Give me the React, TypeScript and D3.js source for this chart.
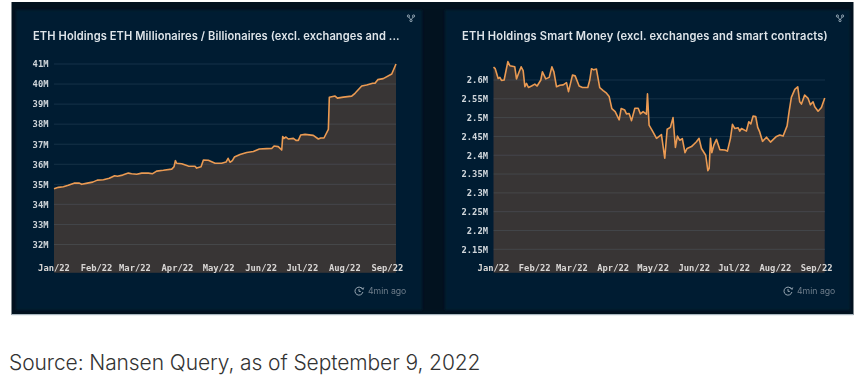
import React from "react";
import * as d3 from "d3";

const monthLabels = ["Jan/22","Feb/22","Mar/22","Apr/22","May/22","Jun/22","Jul/22","Aug/22","Sep/22"];
const monthDays = [0,31,59,90,120,151,181,212,243];
const endDay = 249.3;

const whaleTicks = [41,40,39,38,37,36,35,34,33,32];
const whaleDays = [0,3.2,6.8,10.4,14.6,18.5,20.2,24.3,28.2,31.6,36,40.3,44.2,46.2,50,54.2,56.6,60.3,63.9,68.8,71.9,74.8,79.7,85.8,87.5,88.5,89.4,93.1,97.9,102.8,104,107.2,108.9,112.5,117.4,122.2,125.4,126.9,128.3,130,131.5,135.6,140.5,145.3,149.7,155,158.7,160.4,163.5,166,166.7,167.7,169.1,170.8,174.5,176.4,178.1,179.8,183,189,192.7,194.4,196.8,200,200.7,204.9,206.6,210.9,217,219.4,224.3,227.9,232.3,234,236,240,246.2,249.3];
const whaleValues = [34.78,34.85,34.88,34.95,35.06,35.06,35,35.06,35.11,35.21,35.23,35.3,35.43,35.4,35.46,35.56,35.53,35.5,35.56,35.56,35.53,35.66,35.7,35.76,35.88,36.18,36.05,36.03,35.91,35.9,35.81,35.88,36.21,36.2,36.05,36.05,36.11,36.3,36.1,36.18,36.36,36.49,36.59,36.64,36.76,36.78,36.79,36.91,36.88,36.71,37.38,37.29,37.36,37.26,37.29,37.19,37.19,37.46,37.49,37.44,37.26,37.31,37.31,37.74,39.34,39.4,39.3,39.35,39.4,39.54,39.9,39.95,40.04,40.04,40.22,40.27,40.5,41];

const smartTicks = [2.6,2.55,2.5,2.45,2.4,2.35,2.3,2.25,2.2,2.15];
const smartDays = [0,1.3,3.5,4.8,6,8,10.8,12.3,16,17.3,19.3,20.8,22.3,23.6,24.8,26.3,28.6,31.1,32.8,35.6,36.8,39.3,41.9,43.9,45.4,47.4,49.9,52.4,54.9,56.4,59.4,61.4,64.4,66.9,70.9,72.4,73.7,75.4,77.4,79.9,82.5,85,87,89,91.5,94.5,96,98.7,100,102,103.8,106.3,108.8,110.5,112.5,115,115.8,117,119.5,122.6,126.3,128.8,130.6,133,135,136.8,138.3,140,142,144,145.6,148.9,152.6,154.6,156.4,159.6,161.2,162.2,163.2,164.2,165.7,167.7,170.2,173.9,175.9,178.2,179.7,181.5,184,185.2,186.5,190.2,192,193.5,195.2,197.2,198.7,200.2,202.3,205.3,208.3,212.8,215.3,217.8,220.8,222.3,224,226.6,228.8,230.3,231.6,234,236.6,238.3,240.3,241.6,244.1,246.6,249.1];
const smartValues = [2.634,2.63,2.604,2.607,2.599,2.6,2.649,2.638,2.635,2.603,2.622,2.635,2.625,2.582,2.591,2.58,2.584,2.589,2.584,2.6,2.622,2.603,2.607,2.635,2.622,2.582,2.586,2.587,2.593,2.569,2.613,2.611,2.584,2.58,2.58,2.6,2.63,2.627,2.629,2.58,2.572,2.565,2.556,2.524,2.516,2.494,2.524,2.52,2.51,2.511,2.492,2.525,2.525,2.51,2.516,2.509,2.563,2.48,2.465,2.445,2.455,2.392,2.469,2.474,2.5,2.421,2.451,2.44,2.444,2.407,2.418,2.423,2.436,2.445,2.418,2.4,2.359,2.365,2.445,2.407,2.427,2.442,2.415,2.414,2.411,2.445,2.482,2.471,2.473,2.464,2.471,2.464,2.489,2.483,2.504,2.503,2.474,2.462,2.437,2.448,2.435,2.45,2.454,2.451,2.478,2.516,2.554,2.575,2.582,2.542,2.536,2.56,2.551,2.534,2.542,2.529,2.517,2.527,2.552];

const BOTTOM = 272.7;
const MONO = "'DejaVu Sans Mono','Liberation Mono',monospace";
const SANS = "Inter,'Noto Sans',sans-serif";

type PanelProps = {
  title: string; titleX: number; titleSpacing: number; days: number[]; values: number[]; ticks: number[];
  fmt: (v: number) => string;
  x0: number; x1: number; yA: [number, number]; yB: [number, number];
  iconX: number; clockX: number;
};

function Panel({ title, titleX, titleSpacing, days, values, ticks, fmt, x0, x1, yA, yB, iconX, clockX }: PanelProps) {
  const x = d3.scaleLinear().domain([0, endDay]).range([x0, x1]);
  const y = d3.scaleLinear().domain([yA[0], yB[0]]).range([yA[1], yB[1]]);
  const pts = days.map((d, i) => [d, values[i]] as [number, number]);
  const line = d3.line<[number, number]>().x(d => x(d[0])).y(d => y(d[1]));
  const area = d3.area<[number, number]>().x(d => x(d[0])).y0(BOTTOM).y1(d => y(d[1]));
  return (
    <g filter="url(#soft)">
      <text x={titleX} y={39.5} fontFamily={SANS} fontWeight={600} fontSize={11.1} fill="#dfe5ea" style={{ letterSpacing: titleSpacing }}>{title}</text>
      <path d={area(pts) ?? ""} fill="#383536" />
      {ticks.map(t => (
        <g key={t}>
          <line x1={x0} x2={x1} y1={y(t)} y2={y(t)} stroke="#8aa6bd" strokeOpacity={0.15} />
          <text x={x0 - 5.5} y={y(t) + 3.3} textAnchor="end" fontFamily={MONO} fontWeight={700} fontSize={8.8} fill="#cfd5da">{fmt(t)}</text>
        </g>
      ))}
      <path d={line(pts) ?? ""} fill="none" stroke="#ea9a52" strokeWidth={1.6} strokeLinejoin="round" />
      {monthLabels.map((m, i) => (
        <text key={m} x={x(monthDays[i])} y={270.9} textAnchor="middle" fontFamily={MONO} fontWeight={700} fontSize={8.8} fill="#d8d6d4">{m}</text>
      ))}
      <g transform={`translate(${iconX},18)`} stroke="#9fb0bd" fill="none" strokeWidth={0.9}>
        <circle cx={-2.6} cy={-2} r={1.1} />
        <circle cx={2.6} cy={-2} r={1.1} />
        <circle cx={0} cy={2.6} r={1.1} />
        <path d="M-2.2,-1 L-0.3,1.6 M2.2,-1 L0.3,1.6" />
      </g>
      <g transform={`translate(${clockX},291)`} stroke="#98a6b2" fill="none" strokeWidth={1}>
        <path d="M3.6,-1.6 A4,4 0 1 0 3.9,1" />
        <path d="M0,-2 L0,0.4 L1.8,0.4" />
        <path d="M2.4,-3.8 L4.2,-1.6 L4.8,-3.6" strokeWidth={0.8} />
      </g>
      <text x={clockX + 9} y={294.2} fontFamily={SANS} fontSize={8.7} fill="#6f7d8b">4min ago</text>
    </g>
  );
}

export default function App() {
  return (
    <svg width={860} height={376} style={{ position: "absolute", left: 0, top: 0, background: "#fff" }}>
      <defs>
        <filter id="soft" x="-5%" y="-5%" width="110%" height="110%"><feGaussianBlur stdDeviation={0.35} /></filter>
        <filter id="cardBlur" x="-5%" y="-5%" width="110%" height="110%"><feGaussianBlur stdDeviation={1.5} /></filter>
      </defs>
      <rect x={11.5} y={2} width={842} height={313} fill="#02121f" />
      <rect x={11.5} y={314} width={842} height={1.2} fill="#a9b6bf" />
      <rect x={16} y={10} width={406} height={300} fill="#031b32" filter="url(#cardBlur)" />
      <rect x={445} y={10} width={405} height={300} fill="#031b32" filter="url(#cardBlur)" />
      <Panel title="ETH Holdings ETH Millionaires / Billionaires (excl. exchanges and ..." titleX={33} titleSpacing={0.1} days={whaleDays} values={whaleValues} ticks={whaleTicks}
        fmt={v => `${v}M`} x0={54} x1={396} yA={[41, 64]} yB={[32, 244.5]} iconX={411} clockX={359} />
      <Panel title="ETH Holdings Smart Money (excl. exchanges and smart contracts)" titleX={462} titleSpacing={0.18} days={smartDays} values={smartValues} ticks={smartTicks}
        fmt={v => `${v}M`} x0={493.5} x1={825} yA={[2.6, 80]} yB={[2.15, 249.3]} iconX={840} clockX={788} />
      <text x={9} y={370} fontFamily={SANS} fontWeight={300} fontSize={21} fill="#333" style={{ letterSpacing: -0.09 }}>Source: Nansen Query, as of September 9, 2022</text>
    </svg>
  );
}
